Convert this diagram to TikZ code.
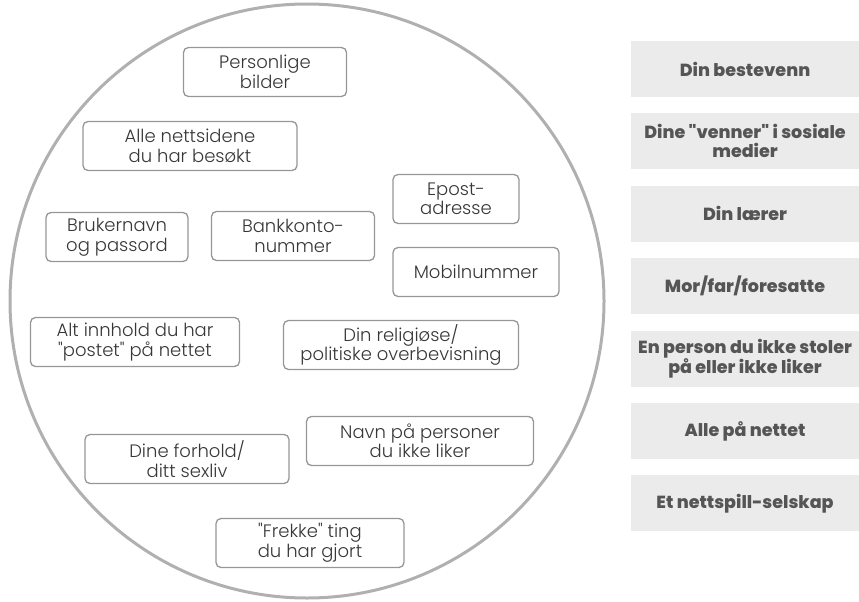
\documentclass[tikz,border=0pt]{standalone}
\usepackage{fontspec}
\setmainfont{Poppins}
\newfontfamily\itemfont{Poppins Light}
\newfontfamily\whofont{Poppins ExtraBold}
\usepackage{tikz}
\usetikzlibrary{positioning}
\tikzset{every node/.append style={align=center}}
\definecolor{ringcolor}{RGB}{176, 176, 176}
\definecolor{itemline}{RGB}{150, 150, 150}
\definecolor{itemtext}{RGB}{55, 55, 55}
\definecolor{whofill}{RGB}{235, 235, 235}
\definecolor{whotext}{RGB}{85, 85, 85}
\tikzset{
  itembox/.style={draw=itemline, line width=1.3pt, rounded corners=5pt, minimum height=49pt,
    inner sep=1pt, text=itemtext, font=\itemfont\fontsize{18}{19.5}\selectfont},
  whobox/.style={fill=whofill, minimum width=228pt, minimum height=56pt, inner sep=1pt,
    text=whotext, font=\whofont\fontsize{17.5}{19}\selectfont}
}

\begin{document}
\begin{tikzpicture}[x=1pt, y=-1pt]
    \useasboundingbox (0, 0) rectangle (859, 602);

    % Circle
    \node[draw=ringcolor, line width=3pt, circle, minimum size=594pt, inner sep=0pt] (ring) at (307, 301) {};

    % Items inside the circle
    \node[itembox, minimum width=163pt] (bilder) at (265, 72) {Personlige\\bilder};
    \node[itembox, minimum width=214pt] (nettsider) at (190, 146) {Alle nettsidene\\du har besøkt};
    \node[itembox, minimum width=142pt] (bruker) at (117, 237) {Brukernavn\\og passord};
    \node[itembox, minimum width=163pt] (bank) at (293, 236) {Bankkonto-\\nummer};
    \node[itembox, minimum width=126pt] (epost) at (456, 199) {Epost-\\adresse};
    \node[itembox, minimum width=166pt] (mobil) at (476, 272) {Mobilnummer};
    \node[itembox, minimum width=209pt] (innhold) at (135, 342) {Alt innhold du har\\"postet" på nettet};
    \node[itembox, minimum width=235pt] (religion) at (401, 345) {Din religiøse/\\politiske overbevisning};
    \node[itembox, minimum width=204pt] (forhold) at (187, 459) {Dine forhold/\\ditt sexliv};
    \node[itembox, minimum width=227pt] (navn) at (420, 441) {Navn på personer\\du ikke liker};
    \node[itembox, minimum width=188pt] (frekke) at (310, 543) {"Frekke" ting\\du har gjort};

    % Who can see it
    \node[whobox] (bestevenn) at (745, 69) {Din bestevenn};
    \node[whobox, below=16pt of bestevenn] (venner) {Dine "venner" i sosiale\\medier};
    \node[whobox, below=16pt of venner] (laerer) {Din lærer};
    \node[whobox, below=16pt of laerer] (foresatte) {Mor/far/foresatte};
    \node[whobox, below=16pt of foresatte] (stoler) {En person du ikke stoler\\på eller ikke liker};
    \node[whobox, below=16pt of stoler] (alle) {Alle på nettet};
    \node[whobox, below=16pt of alle] (selskap) {Et nettspill-selskap};
\end{tikzpicture}
\end{document}
